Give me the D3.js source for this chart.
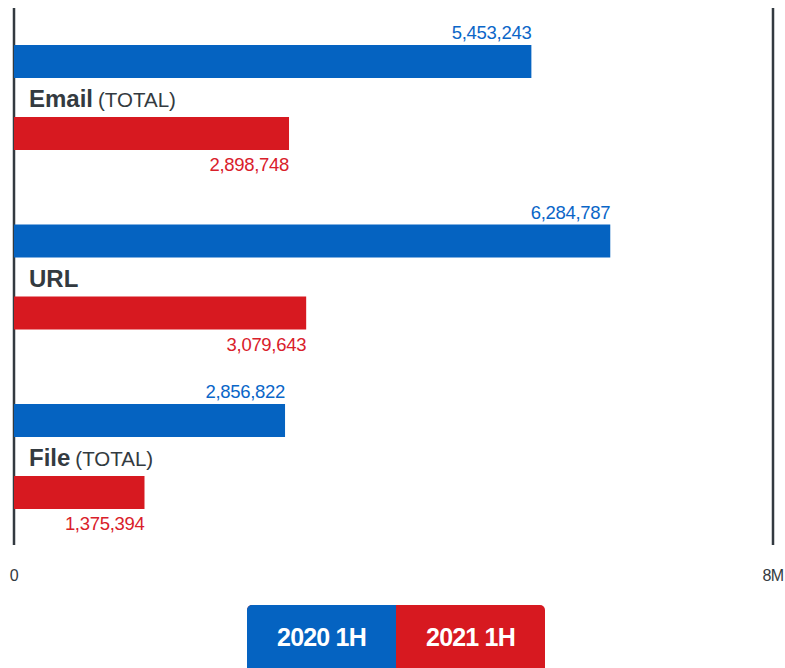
<!DOCTYPE html>
<html><head><meta charset="utf-8">
<script src="https://cdn.jsdelivr.net/npm/d3@7"></script>
<style>
body{margin:0;background:#fff;}
svg{display:block;font-family:"Liberation Sans",Arial,sans-serif;}
</style></head>
<body><svg id="c" width="785" height="668"></svg>
<script>
const categories = ["Email", "URL", "File"];
const categorySuffix = ["(TOTAL)", "", "(TOTAL)"];
const values2020 = [5453243, 6284787, 2856822];
const values2021 = [2898748, 3079643, 1375394];
const seriesNames = ["2020 1H", "2021 1H"];
const tickLabels = ["0", "8M"];
const tickValues = [0, 8000000];

const BLUE = "#0563c1", RED = "#d71920", DARK = "#333a40";
const svg = d3.select("#c");
const x = d3.scaleLinear().domain([0, 8000000]).range([14, 773]);
const y = d3.scaleBand().domain(categories).range([45, 45 + 3 * 179.5]).paddingInner(0).paddingOuter(0);
const barH = 33, redOff = 72;
const fmt = d3.format(",");

// axis lines
svg.selectAll("line.edge").data(tickValues).join("line")
  .attr("x1", d => x(d)).attr("x2", d => x(d))
  .attr("y1", 8).attr("y2", 545)
  .attr("stroke", DARK).attr("stroke-width", 2.5);

// tick labels
svg.selectAll("text.tick").data(tickValues).join("text")
  .attr("x", d => x(d)).attr("y", 581)
  .attr("text-anchor", "middle").attr("font-size", 16).attr("fill", DARK)
  .attr("letter-spacing", -0.5)
  .text((d, i) => tickLabels[i]);

const g = svg.selectAll("g.grp").data(categories).join("g");

g.append("rect").attr("x", x(0)).attr("y", d => y(d))
  .attr("width", (d, i) => x(values2020[i]) - x(0)).attr("height", barH).attr("fill", BLUE);
g.append("rect").attr("x", x(0)).attr("y", d => y(d) + redOff)
  .attr("width", (d, i) => x(values2021[i]) - x(0)).attr("height", barH).attr("fill", RED);

g.append("text").attr("x", (d, i) => x(values2020[i])).attr("y", d => y(d) - 6)
  .attr("text-anchor", "end").attr("font-size", 18.5).attr("letter-spacing", -0.3).attr("fill", "#0a66c8")
  .text((d, i) => fmt(values2020[i]));
g.append("text").attr("x", (d, i) => x(values2021[i])).attr("y", d => y(d) + redOff + barH + 21)
  .attr("text-anchor", "end").attr("font-size", 18.5).attr("letter-spacing", -0.3).attr("fill", "#d9202a")
  .text((d, i) => fmt(values2021[i]));

const lab = g.append("text").attr("x", 29).attr("y", d => y(d) + 62).attr("fill", DARK);
lab.append("tspan").attr("font-size", 24).attr("font-weight", "bold").text(d => d);
lab.append("tspan").attr("font-size", 20.5).attr("dx", 5).text((d, i) => categorySuffix[i]);

// legend
const lx = d3.scaleBand().domain(seriesNames).range([247, 545]);
const lg = svg.append("g");
lg.append("rect").attr("x", 247).attr("y", 605).attr("width", 298).attr("height", 80).attr("rx", 5).attr("fill", RED);
(() => {
  const p = d3.path(); const x0 = lx(seriesNames[0]), y0 = 605, w = lx.bandwidth(), r = 5;
  p.moveTo(x0 + w, y0); p.lineTo(x0 + r, y0); p.arcTo(x0, y0, x0, y0 + r, r);
  p.lineTo(x0, y0 + 80); p.lineTo(x0 + w, y0 + 80); p.closePath();
  lg.append("path").attr("d", p.toString()).attr("fill", BLUE);
})();
lg.selectAll("text").data(seriesNames).join("text")
  .attr("x", d => lx(d) + lx.bandwidth() / 2).attr("y", 646)
  .attr("text-anchor", "middle").attr("font-size", 25).attr("font-weight", "bold")
  .attr("letter-spacing", -0.8).attr("fill", "#fff").text(d => d);
</script></body></html>
